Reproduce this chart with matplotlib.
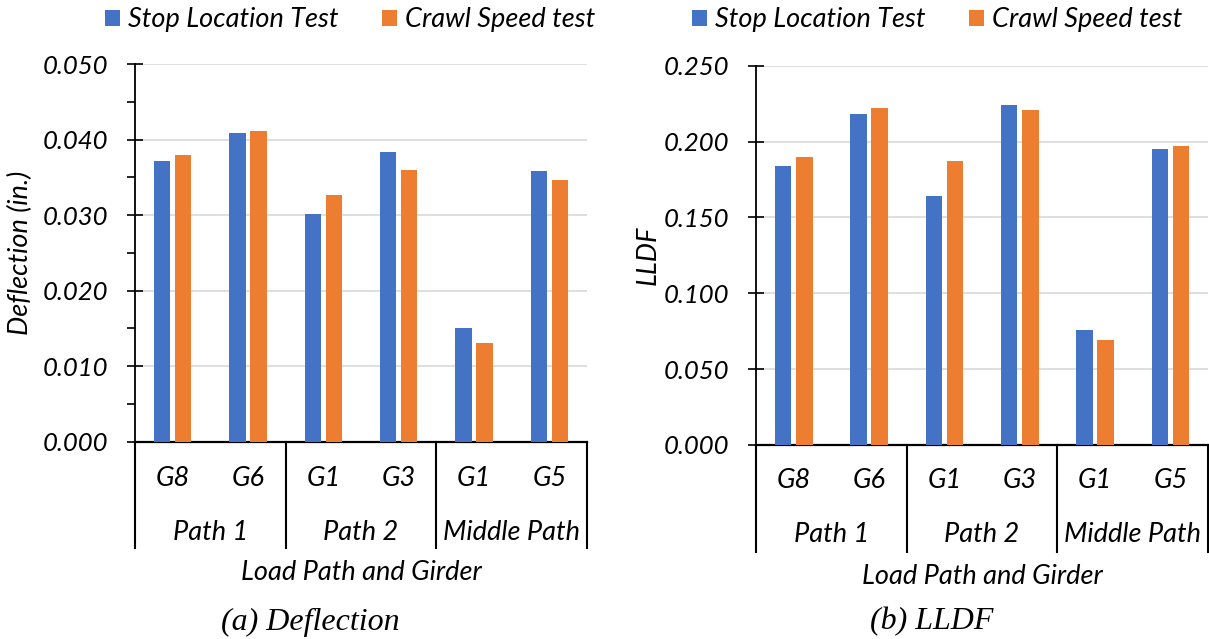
import matplotlib.pyplot as plt
from matplotlib import transforms
from matplotlib.ticker import MultipleLocator, FormatStrFormatter

girders = ["G8", "G6", "G1", "G3", "G1", "G5"]
paths = ["Path 1", "Path 2", "Middle Path"]
series = ["Stop Location Test", "Crawl Speed test"]
colors = ["#4472C4", "#ED7D31"]

defl_stop = [0.0371, 0.0409, 0.0302, 0.0384, 0.0151, 0.0359]
defl_crawl = [0.0379, 0.0411, 0.0327, 0.0360, 0.0130, 0.0346]
lldf_stop = [0.184, 0.218, 0.164, 0.224, 0.076, 0.195]
lldf_crawl = [0.190, 0.222, 0.187, 0.221, 0.069, 0.197]

W, H = 1209, 639
plt.rcParams['font.family'] = ['Lato', 'DejaVu Sans']
plt.rcParams['font.style'] = 'italic'
fs = 19.5

fig = plt.figure(figsize=(W / 100, H / 100), dpi=100)


def fy(py):
    return 1 - py / H


def make_panel(box, stop, crawl, ymax, major, minor, ylabel, ylab_x,
               ys, caption, cap_x, legend_x):
    left, right, top, bottom = box
    ax = fig.add_axes([left / W, 1 - bottom / H, (right - left) / W, (bottom - top) / H])
    x = list(range(len(girders)))
    w = 0.22
    ax.bar([i - 0.14 for i in x], stop, w, color=colors[0], label=series[0], zorder=3)
    ax.bar([i + 0.14 for i in x], crawl, w, color=colors[1], label=series[1], zorder=3)
    ax.set_xlim(-0.5, len(girders) - 0.5)
    ax.set_ylim(0, ymax)
    ax.yaxis.set_major_locator(MultipleLocator(major))
    ax.yaxis.set_major_formatter(FormatStrFormatter('%.3f'))
    if minor:
        ax.yaxis.set_minor_locator(MultipleLocator(minor))
        ax.tick_params(axis='y', which='minor', direction='out', length=6, width=1.2)
    ax.tick_params(axis='y', which='major', direction='inout', length=12, width=1.2,
                   pad=13, labelsize=18.5)
    ax.set_xticks([])
    ax.grid(axis='y', color='#d9d9d9', lw=1.2, zorder=0)
    for s in ['top', 'right']:
        ax.spines[s].set_visible(False)
    ax.spines['left'].set_linewidth(1.3)
    ax.spines['bottom'].set_linewidth(1.6)
    ax.set_ylabel(ylabel, fontsize=fs)
    ax.yaxis.set_label_coords(ylab_x, 0.5)

    tr = transforms.blended_transform_factory(ax.transData, fig.transFigure)
    y_g, y_p, y_sep, y_xl, y_cap = ys
    for i, g in enumerate(girders):
        fig.text(i, fy(y_g), g, transform=tr, ha='center', va='center', fontsize=fs)
    for k, p in enumerate(paths):
        fig.text(2 * k + 0.5, fy(y_p), p, transform=tr, ha='center', va='center', fontsize=fs)
    for xs in [-0.5, 1.5, 3.5, 5.5]:
        ax.plot([xs, xs], [fy(bottom), fy(y_sep)], transform=tr, color='black',
                lw=1.5, clip_on=False)
    cx = (left + right) / 2 / W
    fig.text(cx, fy(y_xl), "Load Path and Girder", ha='center', va='center', fontsize=fs)
    fig.text(cap_x / W, fy(y_cap), caption, ha='center', va='center', fontsize=23,
             family='Liberation Serif', style='italic')
    fig.legend(*ax.get_legend_handles_labels(), loc='center', ncol=2,
               bbox_to_anchor=(legend_x / W, fy(20)), frameon=False, fontsize=fs,
               handlelength=0.55, handleheight=0.55, handletextpad=0.3,
               columnspacing=1.6)
    return ax


make_panel((135, 587, 64, 441.7), defl_stop, defl_crawl, 0.05, 0.01, 0.005,
           "Deflection (in.)", -0.226, (478, 532, 548, 573, 622),
           "(a) Deflection", 310, 350)
make_panel((756, 1208, 65.7, 445), lldf_stop, lldf_crawl, 0.25, 0.05, None,
           "LLDF", -0.21, (481, 535, 552, 576, 622),
           "(b) LLDF", 932, 937)

fig.savefig("out.png", dpi=100)
